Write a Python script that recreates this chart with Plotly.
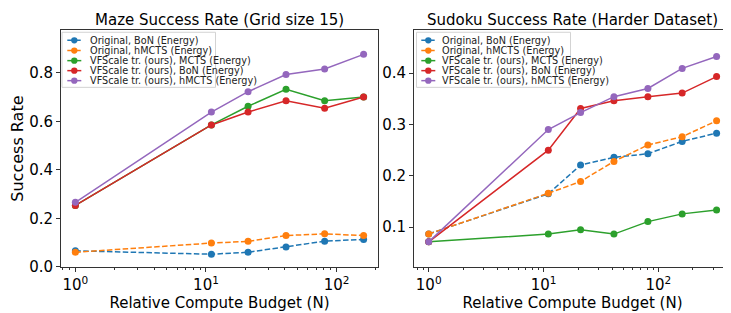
import plotly.graph_objects as go

# ---- data ----
maze_n = [1, 11, 21, 41, 81, 161]
maze_orig_bon = [0.066, 0.052, 0.060, 0.082, 0.106, 0.113]
maze_orig_hmcts = [0.060, 0.098, 0.105, 0.129, 0.136, 0.129]
maze_vf_mcts = [0.253, 0.585, 0.662, 0.732, 0.685, 0.700]
maze_vf_bon = [0.253, 0.585, 0.638, 0.685, 0.654, 0.700]
maze_vf_hmcts = [0.266, 0.638, 0.722, 0.793, 0.816, 0.876]

sudoku_n = [1, 11, 21, 41, 81, 161, 321]
sudoku_orig_bon = [0.087, 0.165, 0.221, 0.236, 0.243, 0.267, 0.283]
sudoku_orig_hmcts = [0.087, 0.166, 0.189, 0.228, 0.260, 0.276, 0.307]
sudoku_vf_mcts = [0.0716, 0.0867, 0.095, 0.0867, 0.111, 0.126, 0.1335]
sudoku_vf_bon = [0.0716, 0.250, 0.331, 0.346, 0.354, 0.361, 0.393]
sudoku_vf_hmcts = [0.0716, 0.290, 0.323, 0.354, 0.370, 0.409, 0.432]

names = ["Original, BoN (Energy)", "Original, hMCTS (Energy)",
         "VFScale tr. (ours), MCTS (Energy)", "VFScale tr. (ours), BoN (Energy)",
         "VFScale tr. (ours), hMCTS (Energy)"]
colors = ["#1f77b4", "#ff7f0e", "#2ca02c", "#d62728", "#9467bd"]
dashes = ["5.5px,2.4px", "5.5px,2.4px", "solid", "solid", "solid"]

x_tickvals = [1, 10, 100]
x_ticktext = ["10<sup>0</sup>", "10<sup>1</sup>", "10<sup>2</sup>"]

fig = go.Figure()
FONT = "DejaVu Sans"

maze_series = [maze_orig_bon, maze_orig_hmcts, maze_vf_mcts, maze_vf_bon, maze_vf_hmcts]
sudoku_series = [sudoku_orig_bon, sudoku_orig_hmcts, sudoku_vf_mcts, sudoku_vf_bon, sudoku_vf_hmcts]

for i, ys in enumerate(maze_series):
    fig.add_trace(go.Scatter(x=maze_n, y=ys, name=names[i], mode="lines+markers",
                             line=dict(color=colors[i], width=1.5, dash=dashes[i]),
                             marker=dict(color=colors[i], size=7),
                             xaxis="x", yaxis="y", showlegend=False))
for i, ys in enumerate(sudoku_series):
    fig.add_trace(go.Scatter(x=sudoku_n, y=ys, name=names[i], mode="lines+markers",
                             line=dict(color=colors[i], width=1.5, dash=dashes[i]),
                             marker=dict(color=colors[i], size=7),
                             xaxis="x2", yaxis="y2", showlegend=False))

W, H = 731, 313
def px(v):
    return v / W
def py(v):
    return (H - v) / H

axis_common = dict(showline=True, linecolor="#333", linewidth=1, mirror=True,
                   ticks="outside", ticklen=4, tickcolor="#333", showgrid=False,
                   zeroline=False, tickfont=dict(family=FONT, size=15, color="black"))

xaxis_common = dict(axis_common, type="log", tickvals=x_tickvals, ticktext=x_ticktext,
                    minor=dict(ticks="outside", ticklen=2, tickcolor="#333", dtick="D1", showgrid=False),
                    title=dict(text="Relative Compute Budget (N)", font=dict(family=FONT, size=15, color="black"), standoff=0))

# ---- hand-built matplotlib-style legends (compact rows) ----
shapes = []
annotations = []
def add_legend(box_l, box_r, handle_l, handle_r, text_l):
    box_t, box_b = 25, 81.7
    shapes.append(dict(type="rect", xref="paper", yref="paper", layer="above",
                       x0=px(box_l), x1=px(box_r), y0=py(box_b), y1=py(box_t),
                       line=dict(color="#d3d3d3", width=1), fillcolor="rgba(255,255,255,0.85)"))
    rows = [33.3, 43.8, 54.2, 64.5, 74.8]
    for i, ry in enumerate(rows):
        shapes.append(dict(type="line", xref="paper", yref="paper", layer="above",
                           x0=px(handle_l), x1=px(handle_r), y0=py(ry), y1=py(ry),
                           line=dict(color=colors[i], width=1.5, dash=dashes[i])))
        cx = (handle_l + handle_r) / 2
        r = 3.2
        shapes.append(dict(type="circle", xref="paper", yref="paper", layer="above",
                           x0=px(cx - r), x1=px(cx + r), y0=py(ry + r), y1=py(ry - r),
                           line=dict(color=colors[i], width=0), fillcolor=colors[i]))
        annotations.append(dict(text=names[i], x=px(text_l), y=py(ry), xref="paper", yref="paper",
                                showarrow=False, xanchor="left", yanchor="middle",
                                font=dict(family=FONT, size=9.7, color="#222")))

add_legend(54, 207.5, 59.3, 73.3, 79.5)
add_legend(408.5, 562.5, 413.3, 427.3, 431.5)

annotations += [
    dict(text="Maze Success Rate (Grid size 15)", x=px(211.5), y=py(12), xref="paper", yref="paper",
         showarrow=False, font=dict(family=FONT, size=15, color="black"), xanchor="center", yanchor="middle"),
    dict(text="Sudoku Success Rate (Harder Dataset)", x=px(564.5), y=py(12), xref="paper", yref="paper",
         showarrow=False, font=dict(family=FONT, size=15, color="black"), xanchor="center", yanchor="middle"),
]

fig.update_layout(
    width=W, height=H, margin=dict(l=0, r=0, t=0, b=0),
    plot_bgcolor="white", paper_bgcolor="white", showlegend=False,
    xaxis=dict(xaxis_common, domain=[px(53), px(370)], range=[-0.11, 2.317], anchor="y"),
    yaxis=dict(axis_common, domain=[py(266.5), py(23)], range=[0.0, 0.975], anchor="x",
               tickvals=[0, 0.2, 0.4, 0.6, 0.8], tickformat=".1f",
               title=dict(text="Success Rate", font=dict(family=FONT, size=16, color="black"), standoff=7)),
    xaxis2=dict(xaxis_common, domain=[px(406), px(723)], range=[-0.128, 2.632], anchor="y2"),
    yaxis2=dict(axis_common, domain=[py(266.5), py(23)], range=[0.023, 0.483], anchor="x2",
                tickvals=[0.1, 0.2, 0.3, 0.4], tickformat=".1f"),
    shapes=shapes,
    annotations=annotations,
)

fig.write_html("out.html")
